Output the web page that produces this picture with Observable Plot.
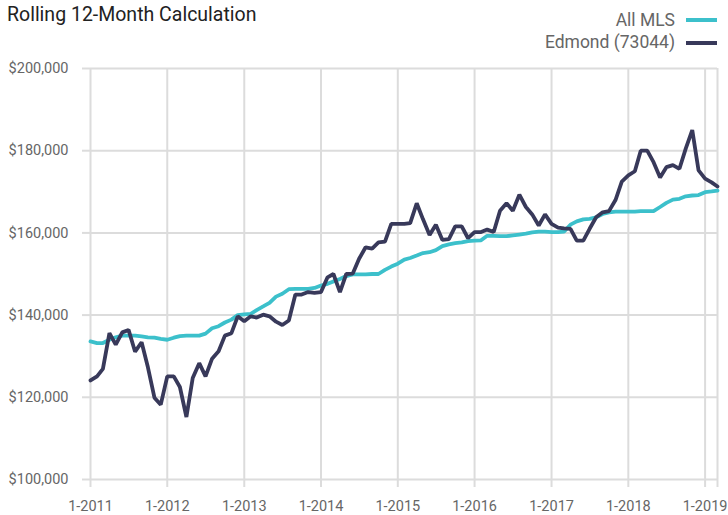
<!DOCTYPE html>
<html>
<head>
<meta charset="utf-8">
<script src="https://cdn.jsdelivr.net/npm/d3@7"></script>
<script src="https://cdn.jsdelivr.net/npm/@observablehq/plot@0.6"></script>
<style>
  html, body { margin: 0; padding: 0; background: #fff; }
  #wrap { position: relative; width: 728px; height: 515px; font-family: Roboto, "Liberation Sans", sans-serif; }
  #header { position: relative; width: 728px; height: 58px; }
  #title { position: absolute; left: 7px; top: 5px; font-size: 19.5px; line-height: 19.5px; color: #222; white-space: nowrap; }
  .leg { position: absolute; right: 11px; display: flex; align-items: center; font-size: 17.5px; line-height: 17.5px; color: #666; white-space: nowrap; }
  .sw { display: inline-block; width: 31px; height: 4px; margin-left: 11px; }
  #chart svg { display: block; }
</style>
</head>
<body>
<div id="wrap">
  <div id="header">
    <div id="title"></div>
    <div id="legend"></div>
  </div>
  <div id="chart"></div>
</div>
<script>
// ---- Data (values in thousands of dollars), monthly Jan 2011 – Mar 2019 ----
const titleText = "Rolling 12-Month Calculation";
const seriesNames = ["All MLS", "Edmond (73044)"];
const seriesColors = ["#3cc0cb", "#38395a"];

const allMLS = [
  133.6, 133.2, 133.2, 134.0, 134.6, 135.0, 135.0, 135.0, 134.8, 134.6, 134.5, 134.2,
  134.0, 134.5, 134.9, 135.0, 135.0, 135.0, 135.5, 136.8, 137.3, 138.2, 138.9, 140.0,
  140.2, 140.3, 141.2, 142.1, 143.0, 144.5, 145.2, 146.3, 146.4, 146.4, 146.4, 146.6,
  147.2, 147.6, 148.2, 148.8, 149.5, 149.9, 149.9, 149.9, 150.0, 150.0, 151.0, 151.8,
  152.5, 153.5, 153.9, 154.5, 155.1, 155.3, 155.8, 156.8, 157.2, 157.5, 157.7, 158.0,
  158.1, 158.2, 159.3, 159.3, 159.2, 159.2, 159.4, 159.6, 159.8, 160.1, 160.3, 160.3,
  160.2, 160.2, 160.3, 162.0, 162.8, 163.3, 163.4, 163.8, 164.6, 165.0, 165.2, 165.2,
  165.2, 165.2, 165.3, 165.3, 165.3, 166.3, 167.3, 168.1, 168.3, 168.9, 169.1, 169.2,
  169.9, 170.1, 170.3
];

const edmond = [
  124.1, 125.1, 126.9, 135.6, 132.8, 135.8, 136.4, 131.1, 133.4, 127.3, 119.9, 118.2,
  125.1, 125.1, 122.5, 115.2, 124.7, 128.3, 125.1, 129.4, 131.2, 135.0, 135.6, 139.7,
  138.5, 139.7, 139.4, 140.1, 139.7, 138.4, 137.6, 138.7, 145.0, 145.0, 145.6, 145.4,
  145.6, 149.2, 150.0, 145.6, 150.0, 150.1, 153.7, 156.5, 156.2, 157.7, 157.9, 162.2,
  162.2, 162.2, 162.4, 167.2, 163.3, 159.5, 162.0, 158.3, 158.5, 161.6, 161.6, 158.7,
  160.2, 160.2, 160.8, 160.2, 165.4, 167.2, 165.4, 169.3, 166.3, 164.5, 161.8, 164.5,
  162.2, 161.3, 161.1, 161.0, 158.1, 158.1, 161.0, 163.8, 165.0, 165.3, 168.0, 172.5,
  174.0, 175.0, 180.0, 180.0, 177.2, 173.5, 176.0, 176.5, 175.6, 180.5, 185.0, 175.2,
  173.2, 172.3, 171.3
];

const yTicks = [100, 120, 140, 160, 180, 200];
const tickYears = [2011, 2012, 2013, 2014, 2015, 2016, 2017, 2018, 2019];

// ---- Build ----
document.getElementById("title").textContent = titleText;
const legend = document.getElementById("legend");
seriesNames.forEach((name, i) => {
  const row = document.createElement("div");
  row.className = "leg";
  row.style.top = (i === 0 ? 11.5 : 34) + "px";
  const t = document.createElement("span");
  t.textContent = name;
  const s = document.createElement("span");
  s.className = "sw";
  s.style.background = seriesColors[i];
  row.appendChild(t); row.appendChild(s);
  legend.appendChild(row);
});

const start = new Date(Date.UTC(2011, 0, 1));
const months = d3.utcMonth.range(start, d3.utcMonth.offset(start, allMLS.length));
const endDate = months[months.length - 1];
const mlsRows = months.map((date, i) => ({date, value: allMLS[i]}));
const edmRows = months.map((date, i) => ({date, value: edmond[i]}));
const yearDates = tickYears.map(y => new Date(Date.UTC(y, 0, 1)));
const gridDates = yearDates.concat([endDate]);

const gridColor = "#dcdcdc";
const fmtY = d => "$" + d3.format(",")(d * 1000);
const fmtX = d => d.getUTCMonth() === 0 ? "1-" + d.getUTCFullYear() : "";

const chart = Plot.plot({
  width: 728,
  height: 457,
  marginTop: 10,
  marginBottom: 36,
  marginLeft: 90,
  marginRight: 11,
  style: {fontFamily: "Roboto, 'Liberation Sans', sans-serif", fontSize: "14.5px", background: "#fff", overflow: "visible"},
  x: {type: "utc", domain: [start, endDate]},
  y: {domain: [100, 200]},
  marks: [
    Plot.gridY(yTicks, {stroke: gridColor, strokeOpacity: 1, strokeWidth: 2}),
    Plot.gridX(gridDates, {stroke: gridColor, strokeOpacity: 1, strokeWidth: 2}),
    Plot.axisY(yTicks, {tickSize: 8, tickPadding: 14, stroke: gridColor, strokeWidth: 2, fill: "#666", tickFormat: fmtY, label: null}),
    Plot.axisX(gridDates, {tickSize: 8, tickPadding: 13, stroke: gridColor, strokeWidth: 2, fill: "#666", tickFormat: fmtX, label: null}),
    Plot.line(mlsRows, {x: "date", y: "value", stroke: seriesColors[0], strokeWidth: 3.8, strokeLinejoin: "miter"}),
    Plot.line(edmRows, {x: "date", y: "value", stroke: seriesColors[1], strokeWidth: 3.8, strokeLinejoin: "miter"})
  ]
});
document.getElementById("chart").appendChild(chart);
</script>
</body>
</html>
